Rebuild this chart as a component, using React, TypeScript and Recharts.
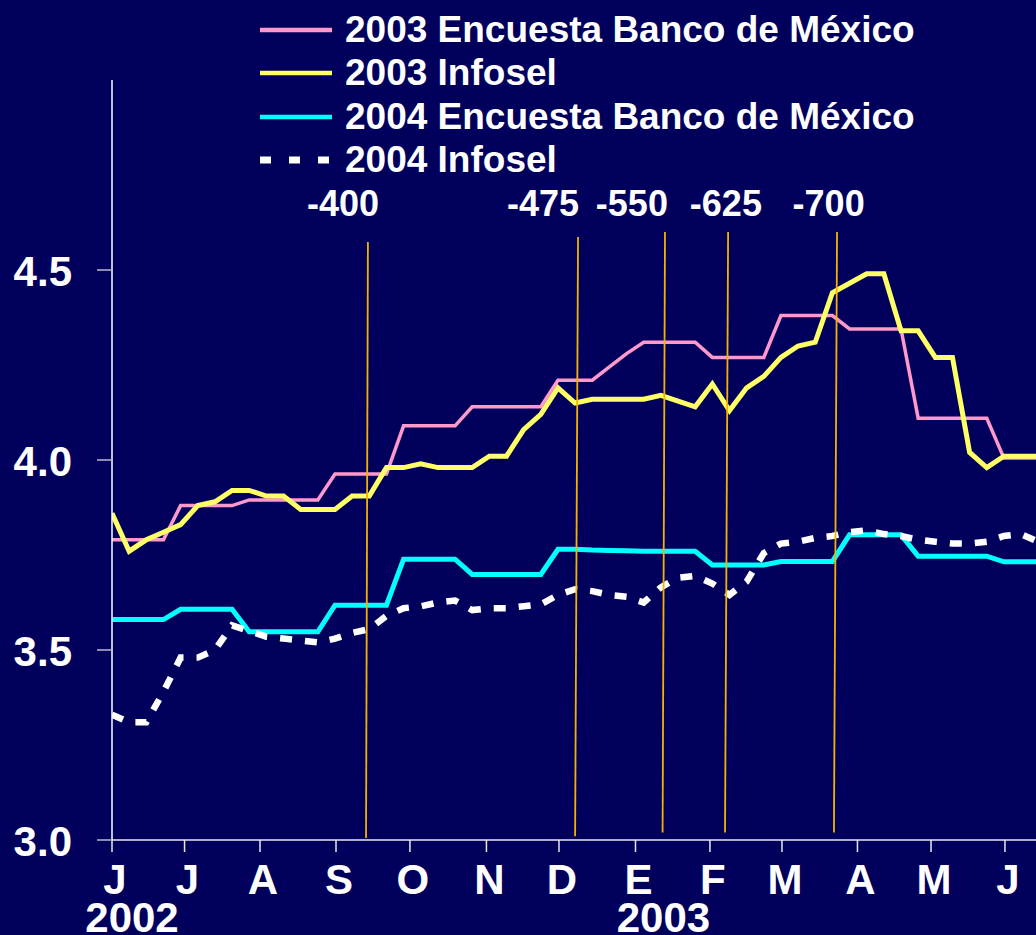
import { Legend, Line, LineChart, ReferenceDot, ReferenceLine, XAxis, YAxis } from 'recharts'

// Semanas desde junio de 2002 (una observación por semana).
const weeks = [
  0, 1, 2, 3, 4, 5, 6, 7, 8, 9, 10, 11, 12, 13, 14, 15, 16, 17, 18, 19, 20, 21, 22, 23, 24, 25, 26,
  27, 28, 29, 30, 31, 32, 33, 34, 35, 36, 37, 38, 39, 40, 41, 42, 43, 44, 45, 46, 47, 48, 49, 50,
  51, 52, 53, 54,
]

const monthLabels = ['J', 'J', 'A', 'S', 'O', 'N', 'D', 'E', 'F', 'M', 'A', 'M', 'J']
const monthTicks = [0, 4.23, 8.63, 13.06, 17.37, 21.83, 26.06, 30.52, 34.86, 39.06, 43.46, 47.75, 52.06]
const yearLabels = ['2002', '', '', '', '', '', '', '2003', '', '', '', '', '']
const valueTicks = [3, 3.5, 4, 4.5]

const banxico2003 = [
  3.79, 3.79, 3.79, 3.79, 3.88, 3.88, 3.88, 3.88, 3.895, 3.895, 3.895, 3.895, 3.895, 3.963, 3.963,
  3.963, 3.963, 4.09, 4.09, 4.09, 4.09, 4.14, 4.14, 4.14, 4.14, 4.14, 4.21, 4.21, 4.21, 4.245, 4.28,
  4.31, 4.31, 4.31, 4.31, 4.27, 4.27, 4.27, 4.27, 4.38, 4.38, 4.38, 4.38, 4.345, 4.345, 4.345, 4.345,
  4.11, 4.11, 4.11, 4.11, 4.11, 4.005, 4.005, 4.005,
]
const infosel2003 = [
  3.86, 3.76, 3.79, 3.81, 3.83, 3.88, 3.89, 3.92, 3.92, 3.905, 3.905, 3.87, 3.87, 3.87, 3.905, 3.905,
  3.98, 3.98, 3.99, 3.98, 3.98, 3.98, 4.01, 4.01, 4.08, 4.12, 4.19, 4.15, 4.16, 4.16, 4.16, 4.16,
  4.17, 4.155, 4.14, 4.2, 4.13, 4.19, 4.22, 4.27, 4.3, 4.31, 4.44, 4.465, 4.49, 4.49, 4.34, 4.34,
  4.27, 4.27, 4.02, 3.98, 4.01, 4.01, 4.01,
]
const banxico2004 = [
  3.58, 3.58, 3.58, 3.58, 3.607, 3.607, 3.607, 3.607, 3.548, 3.548, 3.548, 3.548, 3.548, 3.618, 3.618,
  3.618, 3.618, 3.739, 3.739, 3.739, 3.739, 3.699, 3.699, 3.699, 3.699, 3.699, 3.765, 3.765, 3.763,
  3.762, 3.761, 3.76, 3.76, 3.76, 3.76, 3.724, 3.724, 3.724, 3.724, 3.733, 3.733, 3.733, 3.733, 3.803,
  3.803, 3.803, 3.803, 3.747, 3.747, 3.747, 3.747, 3.747, 3.732, 3.732, 3.732,
]
const infosel2004 = [
  3.33, 3.31, 3.31, 3.39, 3.48, 3.48, 3.5, 3.565, 3.55, 3.535, 3.53, 3.525, 3.52, 3.53, 3.545, 3.555,
  3.59, 3.61, 3.615, 3.625, 3.63, 3.605, 3.61, 3.61, 3.615, 3.62, 3.645, 3.66, 3.655, 3.645, 3.64,
  3.625, 3.665, 3.69, 3.695, 3.675, 3.645, 3.68, 3.755, 3.78, 3.785, 3.795, 3.8, 3.81, 3.815, 3.805,
  3.8, 3.79, 3.785, 3.78, 3.78, 3.785, 3.8, 3.805, 3.785,
]

// Cortos monetarios: etiqueta y extremos de cada línea vertical.
const cutLabels = ['-400', '-475', '-550', '-625', '-700']
const cutLabelWeek = [13.47, 25.13, 30.31, 35.79, 41.78]
const cutTopWeek = [14.92, 27.17, 32.24, 35.92, 42.27]
const cutBottomWeek = [14.81, 27.0, 32.1, 35.74, 42.09]
const cutTopValue = [4.574, 4.587, 4.6, 4.6, 4.6]
const cutBottomValue = [3.005, 3.01, 3.02, 3.02, 3.02]

const BG = '#00005C'
const FONT = '"Liberation Sans", Arial, sans-serif'

const series = [
  { key: 'banxico2003', name: '2003 Encuesta Banco de México', color: '#FF99CC', width: 3.5 },
  { key: 'infosel2003', name: '2003 Infosel', color: '#FFFF66', width: 5 },
  { key: 'banxico2004', name: '2004 Encuesta Banco de México', color: '#00FFFF', width: 5 },
  { key: 'infosel2004', name: '2004 Infosel', color: '#FFFFFF', width: 6.5, dash: '12 13' },
]

function MonthTick(props: any) {
  const { x, y, index } = props
  const year = yearLabels[index]
  return (
    <g>
      <text x={x + 3} y={y + 40} textAnchor="middle" fill="#fff" fontSize={42} fontWeight={700}>
        {monthLabels[index]}
      </text>
      {year && (
        <text x={x + (index === 0 ? 20 : 28)} y={y + 78} textAnchor="middle" fill="#fff" fontSize={42} fontWeight={700}>
          {year}
        </text>
      )}
    </g>
  )
}

function ValueTick(props: any) {
  const { x, y, payload } = props
  return (
    <text x={x - 23} y={y + 16} textAnchor="end" fill="#fff" fontSize={42} fontWeight={700}>
      {Number(payload.value).toFixed(1)}
    </text>
  )
}

function LegendBox() {
  const rows = [30, 73, 117, 160]
  return (
    <svg width={1036} height={190} style={{ display: 'block' }}>
      {series.map((s, i) => (
        <g key={s.key}>
          <line
            x1={260}
            x2={332}
            y1={rows[i]}
            y2={rows[i]}
            stroke={s.color}
            strokeWidth={s.dash ? 7 : 4.5}
            strokeDasharray={s.dash ? '11 18' : undefined}
          />
          <text x={345} y={rows[i] + 12} fill="#fff" fontSize={37} fontWeight={700} fontFamily={FONT}>
            {s.name}
          </text>
        </g>
      ))}
    </svg>
  )
}

export default function App() {
  const data = weeks.map((w, i) => ({
    week: w,
    banxico2003: banxico2003[i],
    infosel2003: infosel2003[i],
    banxico2004: banxico2004[i],
    infosel2004: infosel2004[i],
  }))

  return (
    <div
      style={{
        position: 'absolute',
        left: 0,
        top: 0,
        width: 1036,
        height: 935,
        overflow: 'hidden',
        background: BG,
        fontFamily: FONT,
      }}
    >
      <LineChart width={1036} height={935} data={data} margin={{ top: 80, right: 0, bottom: 0, left: 0 }}>
        <XAxis
          dataKey="week"
          type="number"
          domain={[0, 53.87]}
          allowDataOverflow
          ticks={monthTicks}
          interval={0}
          height={95}
          tickSize={12}
          axisLine={{ stroke: '#E8E8F0', strokeWidth: 1.5 }}
          tickLine={{ stroke: '#E8E8F0', strokeWidth: 1.5 }}
          tick={(p: any) => <MonthTick {...p} />}
        />
        <YAxis
          type="number"
          domain={[3, 5]}
          ticks={valueTicks}
          interval={0}
          width={112}
          tickSize={15}
          axisLine={{ stroke: '#FFFFFF', strokeWidth: 1.5 }}
          tickLine={{ stroke: '#B8B8D0', strokeWidth: 1.5 }}
          tick={(p: any) => <ValueTick {...p} />}
        />
        <Legend
          layout="vertical"
          align="center"
          verticalAlign="middle"
          wrapperStyle={{ top: 0, left: 0, width: 1036, height: 190 }}
          content={() => <LegendBox />}
        />
        {series.map((s) => (
          <Line
            key={s.key}
            type="linear"
            dataKey={s.key}
            name={s.name}
            stroke={s.color}
            strokeWidth={s.width}
            strokeDasharray={s.dash}
            dot={false}
            activeDot={false}
            isAnimationActive={false}
          />
        ))}
        {cutLabels.map((c, i) => (
          <ReferenceLine
            key={c}
            segment={[
              { x: cutTopWeek[i], y: cutTopValue[i] },
              { x: cutBottomWeek[i], y: cutBottomValue[i] },
            ]}
            stroke="#F2B200"
            strokeWidth={1.8}
          />
        ))}
        {cutLabels.map((c, i) => (
          <ReferenceDot
            key={'l' + c}
            x={cutLabelWeek[i]}
            y={4.676}
            r={0}
            fill="none"
            stroke="none"
            label={{ value: c, position: 'center', fill: '#fff', fontSize: 36, fontWeight: 700 }}
          />
        ))}
      </LineChart>
    </div>
  )
}
